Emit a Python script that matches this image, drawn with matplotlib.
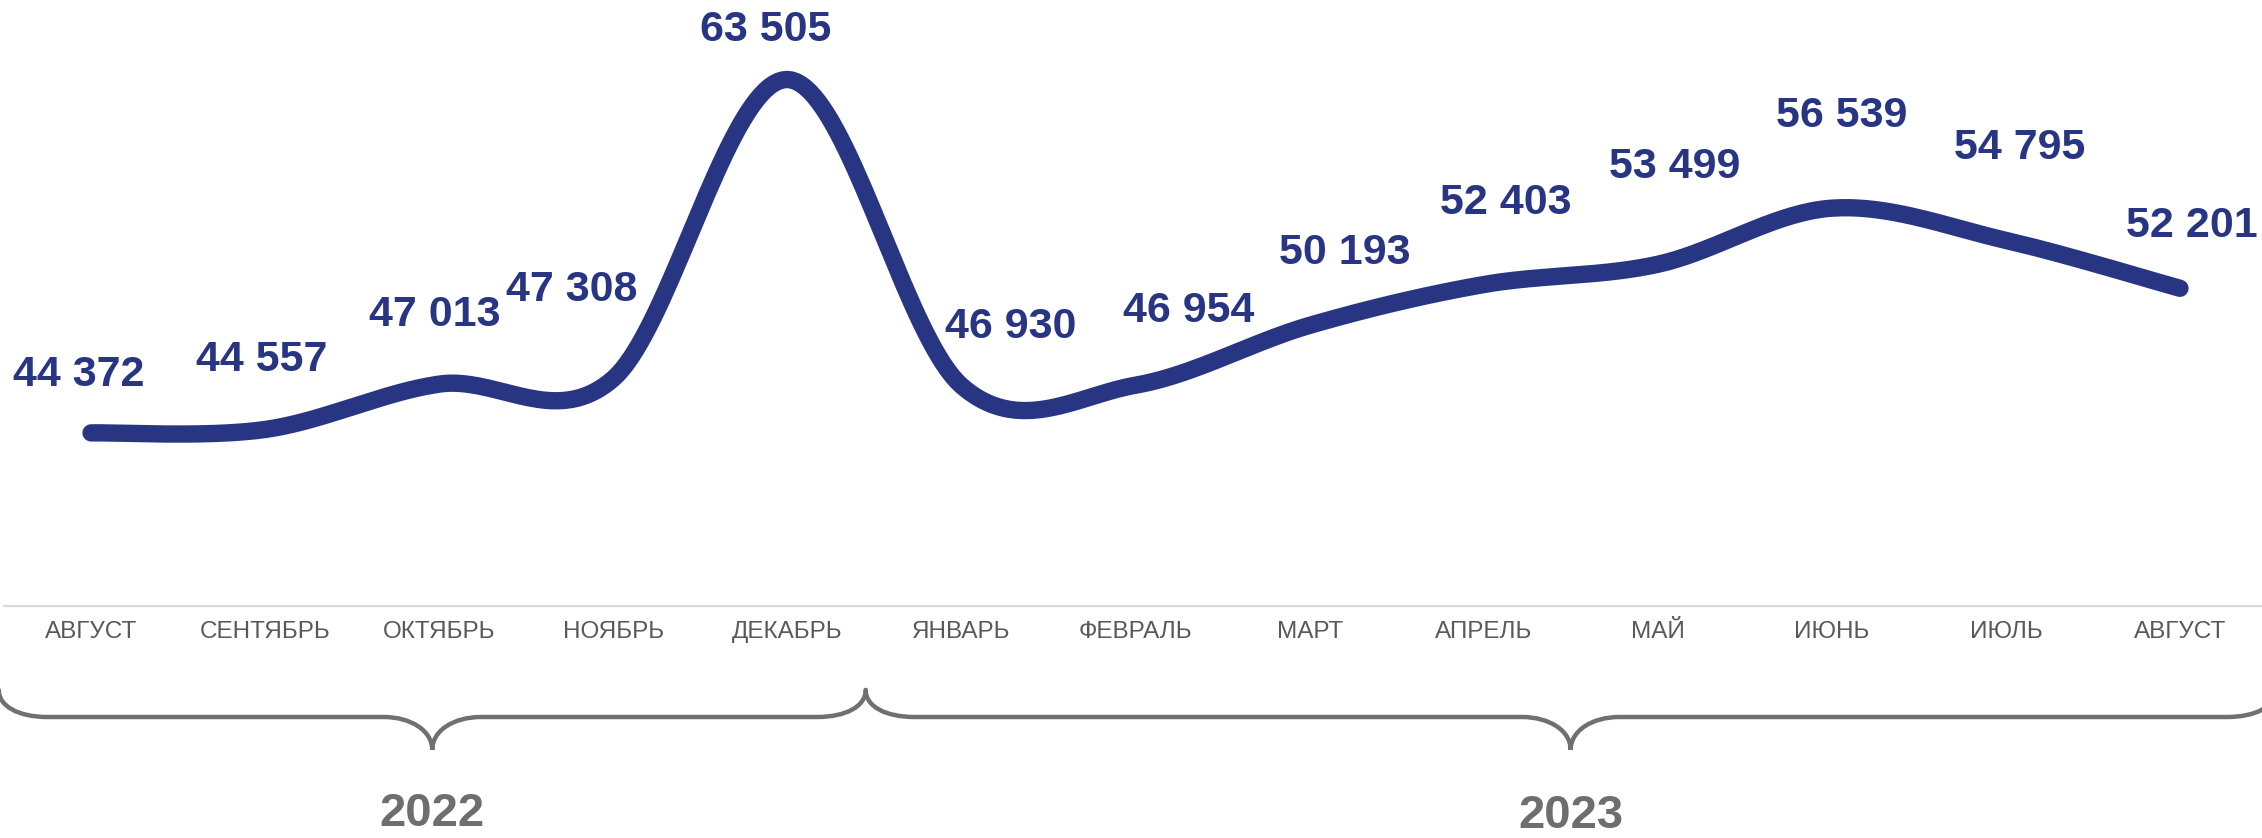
import numpy as np
import matplotlib
matplotlib.use("Agg")
import matplotlib.pyplot as plt
from matplotlib.path import Path
from matplotlib.patches import PathPatch
from matplotlib import transforms

plt.rcParams['font.family'] = ['Liberation Sans', 'DejaVu Sans']

# ---- data ----
months = ["АВГУСТ", "СЕНТЯБРЬ", "ОКТЯБРЬ", "НОЯБРЬ", "ДЕКАБРЬ", "ЯНВАРЬ",
          "ФЕВРАЛЬ", "МАРТ", "АПРЕЛЬ", "МАЙ", "ИЮНЬ", "ИЮЛЬ", "АВГУСТ"]
values = [44372, 44557, 47013, 47308, 63505, 46930, 46954,
          50193, 52403, 53499, 56539, 54795, 52201]
years = ["2022", "2023"]
year_spans = [(0, 4), (5, 12)]  # month index ranges per year

# label offsets (pixels) for manual placement like the original
label_dx = [-12, -3, -4, -42, -22, 49, 53, 35, 22, 17, 10, 14, 12]
label_dy = [58, 69, 69, 89, 49, 59, 74, 72, 82, 97, 92, 92, 62]

W, H, DPI = 2262, 838, 100
LINE_COLOR = '#283583'
GRAY = '#6E6E6E'

fig = plt.figure(figsize=(W / DPI, H / DPI), dpi=DPI)
ax = fig.add_axes([4 / W, (H - 606) / H, 2263 / W, 606 / H])

# Catmull-Rom smoothing (Excel-like smooth line)
x = np.arange(len(values), dtype=float)
y = np.array(values, dtype=float)
px = np.concatenate([[x[0]], x, [x[-1]]])
py = np.concatenate([[y[0]], y, [y[-1]]])
sx, sy = [], []
t = np.linspace(0, 1, 40)
for i in range(1, len(px) - 2):
    p0, p1, p2, p3 = (px[i-1], py[i-1]), (px[i], py[i]), (px[i+1], py[i+1]), (px[i+2], py[i+2])
    c1 = (p1[0] + (p2[0] - p0[0]) / 6, p1[1] + (p2[1] - p0[1]) / 6)
    c2 = (p2[0] - (p3[0] - p1[0]) / 6, p2[1] - (p3[1] - p1[1]) / 6)
    bx = (1-t)**3*p1[0] + 3*(1-t)**2*t*c1[0] + 3*(1-t)*t**2*c2[0] + t**3*p2[0]
    by = (1-t)**3*p1[1] + 3*(1-t)**2*t*c1[1] + 3*(1-t)*t**2*c2[1] + t**3*p2[1]
    sx.extend(bx)
    sy.extend(by)
ax.plot(sx, sy, color=LINE_COLOR, lw=12.5, solid_capstyle='round', solid_joinstyle='round')

for i, v in enumerate(values):
    ax.annotate(f"{v:,}".replace(",", " "), (x[i], v),
                xytext=(label_dx[i], label_dy[i]), textcoords='offset pixels',
                ha='center', va='center', fontsize=31, fontweight='bold',
                color=LINE_COLOR)

ax.set_xlim(-0.5, len(values) - 0.5)
ax.set_ylim(35000, 35000 + 606 * 54.14)
ax.set_xticks(x)
ax.set_xticklabels(months, fontsize=17.5, color='#595959')
ax.tick_params(axis='x', length=0, pad=11)
ax.set_yticks([])
for s in ['top', 'right', 'left']:
    ax.spines[s].set_visible(False)
ax.spines['bottom'].set_color('#D9D9D9')
ax.spines['bottom'].set_linewidth(1.6)
ax.patch.set_alpha(0)

# curly braces under the months
trans = transforms.blended_transform_factory(ax.transData, fig.transFigure)
y_end = (H - 690) / H
y_mid = (H - 717) / H
y_tip = (H - 750) / H
r = 0.28
year_y = [814, 816]
for (a, b), yr, yy in zip(year_spans, years, year_y):
    if a == 0:
        xl = -0.53
        xr = b + 0.45
    else:
        xl = a - 0.55
        xr = b + 0.55
    xc = (xl + xr) / 2
    verts = [
        (xl, y_end),
        (xl, y_end + (y_mid - y_end) * 0.6), (xl + r * 0.4, y_mid), (xl + r, y_mid),
        (xc - r, y_mid),
        (xc - r * 0.45, y_mid), (xc, y_mid + (y_tip - y_mid) * 0.4), (xc, y_tip),
        (xc, y_mid + (y_tip - y_mid) * 0.4), (xc + r * 0.45, y_mid), (xc + r, y_mid),
        (xr - r, y_mid),
        (xr - r * 0.4, y_mid), (xr, y_end + (y_mid - y_end) * 0.6), (xr, y_end),
    ]
    codes = [Path.MOVETO, Path.CURVE4, Path.CURVE4, Path.CURVE4, Path.LINETO,
             Path.CURVE4, Path.CURVE4, Path.CURVE4, Path.CURVE4, Path.CURVE4, Path.CURVE4,
             Path.LINETO, Path.CURVE4, Path.CURVE4, Path.CURVE4]
    patch = PathPatch(Path(verts, codes), transform=trans, facecolor='none',
                      edgecolor='#707070', lw=3.2, clip_on=False, capstyle='round')
    fig.add_artist(patch)
    fig.text(xc, (H - yy) / H, yr, transform=trans, ha='center', va='center',
             fontsize=34, fontweight='bold', color=GRAY)

fig.savefig("out.png", dpi=DPI)
